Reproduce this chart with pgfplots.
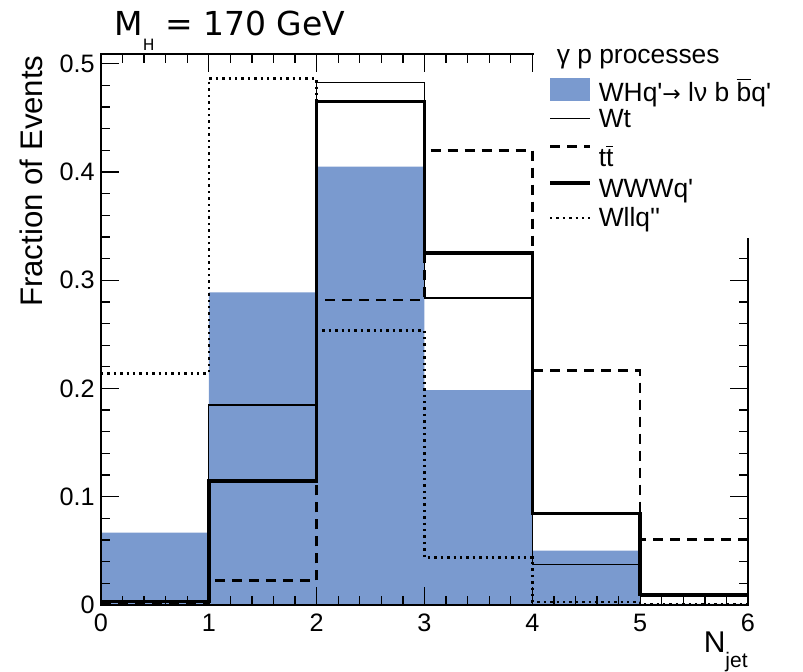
\documentclass[border=0pt]{standalone}
\usepackage{pgfplots}
\pgfplotsset{compat=1.18}
\usepackage{fontspec}
\setmainfont{Liberation Sans}
\newfontfamily\titlefont{DejaVu Sans}
\definecolor{whfill}{RGB}{122,154,207}
\pgfplotsset{
  legline/.style={legend image code/.code={\draw[##1] (0pt,#1) -- (20pt,#1);}},
  legbox/.style={legend image code/.code={\fill[##1] (0pt,-0.15pt) rectangle (20pt,11.5pt);}},
}
\newcommand\sq{\textquotesingle}
\begin{document}
\begin{tikzpicture}
\useasboundingbox (0,0) rectangle (401.5pt,336pt);
\begin{axis}[
  at={(50.5pt,33.5pt)}, anchor=south west,
  width=323.5pt, height=275.5pt, scale only axis,
  xmin=0, xmax=6, ymin=0, ymax=0.509,
  xtick={0,1,2,3,4,5,6}, ytick={0,0.1,0.2,0.3,0.4,0.5},
  minor x tick num=4, minor y tick num=4,
  major tick length=9pt, minor tick length=4.5pt,
  tick align=inside,
  axis on top,
  axis line style={line width=0.65pt},
  tick style={line width=0.65pt, black},
  /pgf/number format/assume math mode=true,
  tick label style={font=\fontsize{12.6}{14}\selectfont},
  xticklabel style={anchor=north, inner sep=0pt, yshift=-4.15pt},
  yticklabel style={anchor=east, inner sep=0pt, xshift=-3pt},
  legend style={at={(0.6692,1.0241)}, anchor=north west, fill=white, draw=none,
    inner xsep=7pt, inner ysep=2pt, row sep=0pt, column sep=3.5pt,
    font=\fontsize{13.2}{15}\selectfont,
    nodes={inner sep=0pt, text depth=4pt},
    cells={anchor=base west}},
]
\addlegendimage{empty legend}
\addlegendentry{\rule{0pt}{9pt}\hspace*{-21pt}γ p processes}

\addplot[const plot, fill=whfill, draw=none, legbox] coordinates {
  (0,0.0668) (1,0.2887) (2,0.405) (3,0.1985) (4,0.0502) (5,0.001) (6,0.001)} \closedcycle;
\addlegendentry{\rule{0pt}{15pt}WHq\sq{\titlefont\fontsize{11}{13}\selectfont →} lν b $\overline{\hbox{b}}$q\sq}

\addplot[const plot, black, line width=0.6pt, legline=4.6pt] coordinates {
  (0,0.002) (1,0.1847) (2,0.483) (3,0.2835) (4,0.0376) (5,0.008) (6,0.008)};
\addlegendentry{\rule{0pt}{9.3pt}Wt}

\addplot[const plot, black, line width=1.3pt, dash pattern=on 5pt off 3.5pt, legline=10pt] coordinates {
  (0,0.002) (1,0.0225) (2,0.2816) (3,0.42) (4,0.2164) (5,0.0603) (6,0.0603)};
\addlegendentry{\rule{0pt}{15.35pt}t$\overline{\hbox{t}}$}

\addplot[const plot, black, line width=1.7pt, legline=7pt] coordinates {
  (0,0.003) (1,0.1145) (2,0.465) (3,0.325) (4,0.0843) (5,0.0099) (6,0.0099)};
\addlegendentry{\rule{0pt}{11.35pt}WWWq\sq}

\addplot[const plot, black, line width=1.2pt, dash pattern=on 1.2pt off 2pt, legline=4pt] coordinates {
  (0,0.214) (1,0.4863) (2,0.2536) (3,0.0437) (4,0.003) (5,0.0008) (6,0.0008)};
\addlegendentry{\rule{0pt}{10.5pt}Wllq\sq\sq}
\end{axis}
\node[anchor=base west, inner sep=0pt] at (57pt,318pt)
  {\titlefont\fontsize{16.5}{19}\selectfont M\raisebox{-7.3pt}{\fontsize{7.8}{9}\selectfont H} = 170 GeV};
\node[rotate=90, anchor=base east, inner sep=0pt, font=\fontsize{15.6}{18}\selectfont] at (21pt,308.5pt) {Fraction of Events};
\node[anchor=base east, inner sep=0pt, font=\fontsize{15}{18}\selectfont] at (374pt,9.5pt)
  {N\raisebox{-7.5pt}{\fontsize{10.5}{12}\selectfont jet}};
\end{tikzpicture}
\end{document}
